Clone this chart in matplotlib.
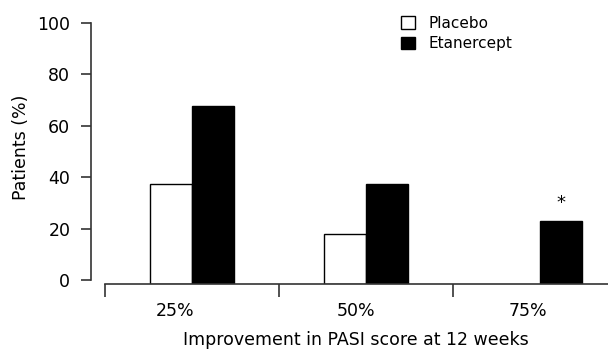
import matplotlib
matplotlib.use("Agg")
import matplotlib.pyplot as plt
from matplotlib.patches import Patch

categories = ["25%", "50%", "75%"]
placebo = [37.5, 18, 0]
etanercept = [67.5, 37.5, 23]
series_names = ["Placebo", "Etanercept"]
y_ticks = [0, 20, 40, 60, 80, 100]

plt.rcParams['font.family'] = ['DejaVu Sans']
W, H = 608, 352
fig = plt.figure(figsize=(W/100, H/100), dpi=100)
ax = fig.add_axes([105/W, 1-284/H, 1-105/W, (284-10)/H])

base = -1.55
width = 0.241
x = list(range(len(categories)))
ax.bar([i - width/2 for i in x], [v - base if v > 0 else 0 for v in placebo], width, bottom=base,
       color="white", edgecolor=["black" if v > 0 else "none" for v in placebo], linewidth=1.0)
ax.bar([i + width/2 for i in x], [v - base if v > 0 else 0 for v in etanercept], width, bottom=base,
       color="black", edgecolor=["black" if v > 0 else "none" for v in etanercept], linewidth=1.0)

ax.set_xlim(-0.5, 2.39)
ax.set_ylim(base, 105)

for s in ["top", "right"]:
    ax.spines[s].set_visible(False)
ax.spines["left"].set_position(("outward", 10))
ax.spines["left"].set_bounds(0, 100)
for s in ["left", "bottom"]:
    ax.spines[s].set_color("#333333")
    ax.spines[s].set_linewidth(1.2)

ax.set_yticks(y_ticks)
ax.set_yticklabels([str(t) for t in y_ticks])
ax.tick_params(axis="y", length=7, width=1.2, color="#333333", labelsize=12.5, pad=8)

ax.set_xticks([-0.10, 0.94, 1.93])
ax.set_xticklabels(categories)
ax.set_xticks([-0.5, 0.5, 1.5], minor=True)
ax.tick_params(axis="x", which="major", length=0, labelsize=12.5, pad=13)
ax.tick_params(axis="x", which="minor", length=9.4, width=1.2, color="#333333")

ax.set_ylabel("Patients (%)", fontsize=12.5, labelpad=5)
ax.set_xlabel("Improvement in PASI score at 12 weeks", fontsize=12.5)
ax.xaxis.set_label_coords((356-105)/(W-105), -(340-284)/274, transform=ax.transAxes)
ax.xaxis.label.set_va("center")

ax.text(2 + width/2, etanercept[2] + 7, "*", ha="center", va="center", fontsize=13)

handles = [Patch(facecolor="white", edgecolor="black", linewidth=1.0),
           Patch(facecolor="black", edgecolor="black", linewidth=1.0)]
fig.legend(handles, series_names, loc="upper left", bbox_to_anchor=(401/W, 1-16/H),
           frameon=False, fontsize=11, handlelength=0.9, handleheight=0.9,
           handletextpad=0.9, labelspacing=0.35, borderpad=0, borderaxespad=0)

fig.savefig("out.png", dpi=100)
